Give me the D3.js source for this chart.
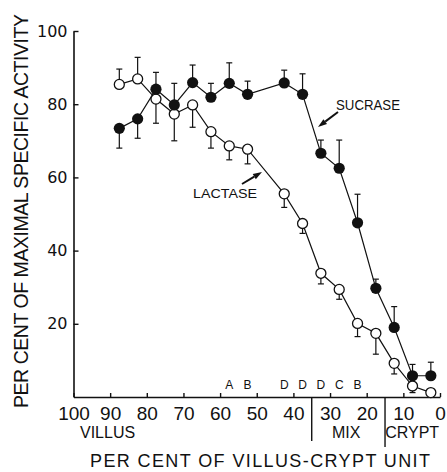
<!DOCTYPE html>
<html>
<head>
<meta charset="utf-8">
<script src="https://cdn.jsdelivr.net/npm/d3@7"></script>
<style>
    body { margin: 0; background: #fff; }
    svg { display: block; font-family: "Liberation Sans", Arial, sans-serif; }
</style>
</head>
<body>
<div id="chart"></div>
<script>
// per cent of villus-crypt unit (bin centres), 47.5 has no sample
const position = [87.5, 82.5, 77.5, 72.5, 67.5, 62.5, 57.5, 52.5, 42.5, 37.5, 32.5, 27.5, 22.5, 17.5, 12.5, 7.5, 2.5];
const sucrase = [73.4, 76, 84.1, 79.8, 85.9, 81.9, 85.7, 82.7, 85.8, 82.7, 66.6, 62.5, 47.6, 29.7, 19, 5.8, 5.8];
// signed error: + drawn upward, - drawn downward
const sucraseErr = [-5.4, -5.3, 4.6, 5.9, 4.8, 3.8, 5.6, 3.6, 3.5, 5.6, 3.6, 7.7, 7.8, 2.5, 5.7, 3.1, 3.7];
const lactase = [85.4, 86.9, 81.4, 77.3, 79.8, 72.5, 68.6, 67.7, 55.5, 47.4, 33.8, 29.4, 20.1, 17.4, 9.2, 3, 1.2];
const lactaseErr = [4.2, 5.9, -6.6, -7.3, -6.1, -4.5, -3.8, -4, -3.7, -2.7, -2.9, -2.7, -3.6, -5.7, -2.9, -1.8, 0];

const xTicks = [100, 90, 80, 70, 60, 50, 40, 30, 20, 10, 0];
const yTicks = [20, 40, 60, 80, 100];
const gradeLetters = ["A", "B", "D", "D", "D", "C", "B"];
const gradePositions = [57.5, 52.5, 42.5, 37.5, 32.5, 27.5, 22.5];
const regionBreaks = [35, 15];
const regionNames = ["VILLUS", "MIX", "CRYPT"];

const width = 447, height = 472;

const svg = d3.select("#chart").append("svg")
    .attr("width", width)
    .attr("height", height);

svg.append("rect").attr("width", width).attr("height", height).attr("fill", "#fff");

const x = d3.scaleLinear().domain([100, 0]).range([73.5, 440]);
const y = d3.scaleLinear().domain([0, 100]).range([397, 31]);

// axes, ticks pointing inward
const yAxis = svg.append("g")
    .attr("transform", "translate(73.5,0)")
    .call(d3.axisLeft(y).tickValues(yTicks).tickSizeInner(-5).tickSizeOuter(0).tickPadding(6));
yAxis.selectAll("text").attr("font-size", 16).attr("font-family", "DejaVu Sans, sans-serif").attr("fill", "#111");

const xAxis = svg.append("g")
    .attr("transform", "translate(0,397)")
    .call(d3.axisBottom(x).tickValues(xTicks).tickFormat(d3.format("d")).tickSizeInner(-4).tickSizeOuter(0).tickPadding(10));
xAxis.selectAll("text").attr("font-size", 19).attr("font-family", "Liberation Sans, Arial, sans-serif").attr("fill", "#111");

svg.selectAll(".domain").attr("stroke", "#111").attr("stroke-width", 1.6);
svg.selectAll(".tick line").attr("stroke", "#111").attr("stroke-width", 1.4);

// region separators below the axis
const breakBottoms = [441, 447];
regionBreaks.forEach((b, i) => {
    svg.append("line")
        .attr("x1", x(b)).attr("x2", x(b))
        .attr("y1", 397).attr("y2", breakBottoms[i])
        .attr("stroke", "#111").attr("stroke-width", 1.4);
});

const regionCentres = [90.7, 25.6, 7.6];
regionNames.forEach((n, i) => {
    svg.append("text")
        .attr("x", x(regionCentres[i])).attr("y", 438)
        .attr("text-anchor", "middle")
        .attr("font-size", 16)
        .attr("fill", "#111")
        .text(n);
});

svg.append("text")
    .attr("x", 260).attr("y", 467)
    .attr("text-anchor", "middle")
    .attr("font-size", 18)
    .attr("textLength", 340).attr("lengthAdjust", "spacing")
    .attr("fill", "#111")
    .text("PER CENT OF VILLUS-CRYPT UNIT");

svg.append("text")
    .attr("transform", "translate(28,211) rotate(-90)")
    .attr("text-anchor", "middle")
    .attr("font-size", 19.5)
    .attr("textLength", 394).attr("lengthAdjust", "spacing")
    .attr("fill", "#111")
    .text("PER CENT OF MAXIMAL SPECIFIC ACTIVITY");

// grade letters above the x axis
svg.selectAll(".grade")
    .data(gradeLetters)
    .join("text")
    .attr("class", "grade")
    .attr("x", (d, i) => x(gradePositions[i]))
    .attr("y", 389)
    .attr("text-anchor", "middle")
    .attr("font-size", 12)
    .attr("fill", "#111")
    .text(d => d);

// error bars
function errorBars(values, errs) {
    const g = svg.append("g").attr("stroke", "#111").attr("stroke-width", 1.2);
    values.forEach((v, i) => {
        if (!errs[i]) return;
        const px = x(position[i]);
        const end = y(v + errs[i]);
        g.append("line").attr("x1", px).attr("x2", px).attr("y1", y(v)).attr("y2", end);
        g.append("line").attr("x1", px - 3).attr("x2", px + 3).attr("y1", end).attr("y2", end);
    });
}
errorBars(sucrase, sucraseErr);
errorBars(lactase, lactaseErr);

const line = d3.line().x(d => x(d[0])).y(d => y(d[1]));
[sucrase, lactase].forEach(series => {
    svg.append("path")
        .datum(position.map((p, i) => [p, series[i]]))
        .attr("d", line)
        .attr("fill", "none")
        .attr("stroke", "#111")
        .attr("stroke-width", 1.2);
});

svg.selectAll(".lac")
    .data(lactase)
    .join("circle")
    .attr("class", "lac")
    .attr("cx", (d, i) => x(position[i]))
    .attr("cy", d => y(d))
    .attr("r", 5)
    .attr("fill", "#fff")
    .attr("stroke", "#111")
    .attr("stroke-width", 1.3);

svg.selectAll(".suc")
    .data(sucrase)
    .join("circle")
    .attr("class", "suc")
    .attr("cx", (d, i) => x(position[i]))
    .attr("cy", d => y(d))
    .attr("r", 5.6)
    .attr("fill", "#111");

// labels with pointer arrows
function arrow(x1, y1, x2, y2) {
    const a = Math.atan2(y2 - y1, x2 - x1);
    const len = 9, half = 3;
    const bx = x2 - len * Math.cos(a), by = y2 - len * Math.sin(a);
    svg.append("line")
        .attr("x1", x1).attr("y1", y1).attr("x2", bx).attr("y2", by)
        .attr("stroke", "#111").attr("stroke-width", 2);
    svg.append("path")
        .attr("d", `M${x2},${y2}L${bx + half * Math.sin(a)},${by - half * Math.cos(a)}L${bx - half * Math.sin(a)},${by + half * Math.cos(a)}Z`)
        .attr("fill", "#111");
}

svg.append("text")
    .attr("x", 336).attr("y", 110)
    .attr("font-size", 14)
    .attr("textLength", 64).attr("lengthAdjust", "spacingAndGlyphs")
    .attr("fill", "#111")
    .text("SUCRASE");
arrow(338, 112, 318, 127);

svg.append("text")
    .attr("x", 193).attr("y", 198)
    .attr("font-size", 13)
    .attr("textLength", 64).attr("lengthAdjust", "spacingAndGlyphs")
    .attr("fill", "#111")
    .text("LACTASE");
arrow(242, 184, 262, 172);
</script>
</body>
</html>
